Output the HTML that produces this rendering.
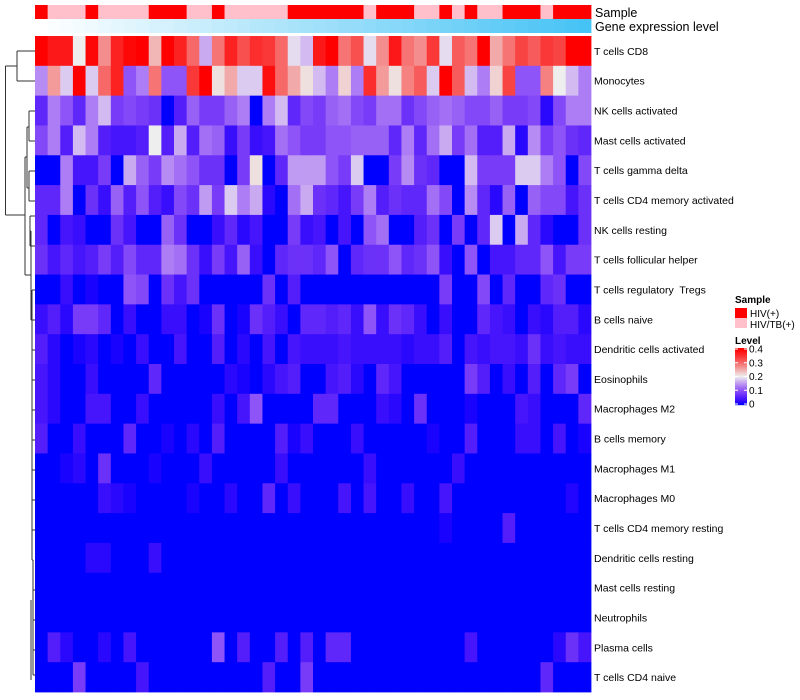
<!DOCTYPE html>
<html><head><meta charset="utf-8">
<style>
html,body{margin:0;padding:0;background:#fff;}
svg{display:block;font-family:"Liberation Sans",sans-serif;}
svg text{white-space:pre;}
</style></head>
<body>
<svg id="chart" width="800" height="700"></svg>
<script>
const rowLabels = ["T cells CD8","Monocytes","NK cells activated","Mast cells activated","T cells gamma delta","T cells CD4 memory activated","NK cells resting","T cells follicular helper","T cells regulatory  Tregs","B cells naive","Dendritic cells activated","Eosinophils","Macrophages M2","B cells memory","Macrophages M1","Macrophages M0","T cells CD4 memory resting","Dendritic cells resting","Mast cells resting","Neutrophils","Plasma cells","T cells CD4 naive"];
const sampleGroups = [1,0,0,0,1,0,0,0,0,1,1,1,0,0,1,0,0,0,0,0,1,1, 1,1,1,1,0,1,1,1,0,0,1,0,1,0,0,1,1,1,0,1,1,1];
const geneLevel = [0,0.02,0.05,0.07,0.09,0.12,0.14,0.16,0.19,0.21,0.23,0.26,0.28,0.3,0.33,0.35,0.37,0.4,0.42,0.44,0.47,0.49,0.51,0.53,0.56,0.58,0.6,0.63,0.65,0.67,0.7,0.72,0.74,0.77,0.79,0.81,0.84,0.86,0.88,0.91,0.93,0.95,0.98,1];
const r0 = [0.4,0.37,0.37,0.2,0.39,0.27,0.36,0.39,0.4,0.24,0.4,0.36,0.3,0.16,0.29,0.36,0.32,0.35,0.34,0.3,0.19,0.17, 0.37,0.4,0.29,0.32,0.19,0.27,0.37,0.29,0.27,0.34,0.19,0.31,0.29,0.4,0.25,0.29,0.33,0.31,0.34,0.33,0.4,0.4];
const r1 = [0.14,0.26,0.18,0.4,0.18,0.3,0.36,0.1,0.13,0.29,0.1,0.1,0.34,0.4,0.21,0.25,0.18,0.18,0.38,0.3,0.25,0.21, 0.17,0.13,0.22,0.13,0.35,0.26,0.21,0.28,0.31,0.18,0.4,0.31,0.17,0.13,0.22,0.33,0.1,0.1,0.28,0.2,0.17,0.13];
const r2 = [0.06,0.13,0.1,0.06,0.13,0.17,0.08,0.09,0.08,0.07,0,0.05,0.11,0.08,0.08,0.11,0.13,0,0.13,0.17,0.06,0.09, 0.08,0.11,0.12,0.09,0.08,0.12,0.12,0.07,0.09,0.11,0.12,0.11,0.09,0.09,0.11,0.08,0.08,0.09,0.02,0.09,0.13,0.13];
const r3 = [0.09,0.13,0.05,0.17,0.13,0.05,0.04,0.04,0.05,0.2,0.05,0.16,0.05,0.12,0.11,0.03,0.08,0.03,0.04,0.12,0.1,0.08, 0.08,0.1,0.1,0.11,0.11,0.11,0.06,0.13,0.06,0.12,0.16,0.08,0.12,0.05,0.05,0.16,0.02,0.14,0.08,0.1,0.07,0.06];
const r4 = [0,0,0.13,0.04,0.04,0.08,0,0.16,0.11,0.08,0.14,0.12,0.1,0.07,0.07,0,0.08,0.21,0,0.06,0.15,0.15, 0.15,0.1,0.08,0.18,0,0,0.08,0.14,0.07,0.06,0,0,0.17,0.08,0.08,0.08,0.18,0.18,0.13,0.1,0,0.09];
const r5 = [0.06,0.06,0.13,0,0.07,0.03,0.11,0.05,0.1,0.05,0.03,0.09,0.07,0.15,0.08,0.18,0.13,0.16,0.02,0,0.12,0.16, 0.07,0.06,0.04,0.08,0.13,0.05,0.07,0.06,0.06,0.12,0.09,0,0.14,0.06,0.02,0.11,0,0.11,0.09,0.09,0.04,0.07];
const r6 = [0.06,0,0.04,0.03,0,0,0.07,0.04,0,0,0.11,0.07,0,0,0.03,0.06,0.02,0.04,0,0,0.08,0.03, 0.04,0,0.04,0,0.1,0.12,0,0,0.05,0.07,0,0.08,0,0.06,0.18,0,0.16,0.06,0.02,0,0,0.07];
const r7 = [0.07,0.04,0.06,0.04,0.05,0.08,0.05,0.09,0.06,0.06,0.13,0.12,0.07,0.03,0.08,0.04,0.11,0.03,0,0.06,0.07,0.07, 0.06,0.1,0,0.06,0.07,0.07,0.1,0.06,0.07,0.1,0.03,0,0.1,0,0.04,0.04,0.06,0.06,0.1,0.04,0.08,0.08];
const r8 = [0,0,0.03,0,0.01,0,0,0.1,0.09,0,0.07,0.04,0.07,0,0,0,0,0,0.07,0,0.05,0, 0,0,0,0,0,0,0,0,0,0,0.08,0,0,0.09,0,0.06,0,0,0.06,0.07,0,0];
const r9 = [0.03,0.05,0.02,0.08,0.08,0.06,0,0.03,0,0,0.03,0.03,0,0.01,0.07,0,0.01,0.07,0.05,0.03,0,0.06, 0.06,0.05,0.06,0.03,0.1,0.03,0.07,0.06,0.03,0,0.03,0,0,0.06,0.04,0.03,0,0.03,0.02,0.05,0.05,0.02];
const r10 = [0.05,0.02,0,0.01,0.02,0,0.01,0,0.03,0,0,0.04,0,0,0.05,0,0.02,0,0.04,0,0.04,0.03, 0.03,0.03,0.04,0.03,0.03,0.03,0.03,0.02,0.03,0.03,0.05,0,0.04,0.03,0.04,0.04,0.03,0.07,0.03,0.04,0.03,0.03];
const r11 = [0.04,0.02,0,0,0.03,0,0,0,0,0.06,0,0,0,0,0,0.02,0.01,0,0.02,0.04,0.05,0, 0,0.04,0.05,0.02,0,0.06,0.04,0,0,0,0,0,0.08,0.05,0,0.03,0,0.05,0,0.06,0.08,0];
const r12 = [0.04,0.02,0,0,0.04,0.04,0,0,0.03,0,0,0,0,0,0.03,0,0.04,0.1,0,0,0,0, 0.06,0.06,0,0,0,0.03,0.02,0,0.07,0,0,0,0.01,0,0,0,0.04,0.03,0,0,0,0.06];
const r13 = [0.05,0,0,0.03,0,0,0,0.06,0,0,0.01,0,0.02,0,0.05,0,0,0,0,0.05,0.01,0.03, 0,0,0,0.03,0,0,0,0,0,0.01,0,0,0.05,0,0,0,0.03,0.03,0,0.04,0,0.01];
const r14 = [0,0,0.01,0.02,0,0.07,0,0,0,0.01,0,0,0,0.03,0,0,0,0,0,0.03,0,0, 0,0,0,0,0.03,0,0,0,0,0,0,0.03,0,0,0,0,0,0,0,0,0,0];
const r15 = [0,0,0,0,0,0.03,0.02,0.01,0,0,0,0,0.01,0,0,0.02,0,0,0.06,0,0.03,0, 0,0,0.04,0,0.04,0,0,0.03,0,0,0.04,0,0,0,0,0,0,0,0,0,0.015,0];
const r16 = [0,0,0,0,0,0,0,0,0,0,0,0,0,0,0,0,0,0,0,0,0,0, 0,0,0,0,0,0,0,0,0,0,0.01,0,0,0,0,0.05,0,0,0,0,0,0];
const r17 = [0,0,0,0,0.02,0.02,0,0,0,0.03,0,0,0,0,0,0,0,0,0,0,0,0, 0,0,0,0,0,0,0,0,0,0,0,0,0,0,0,0,0,0,0,0,0,0];
const r18 = [0,0,0,0,0,0,0,0,0,0,0,0,0,0,0,0,0,0,0,0,0,0, 0,0,0,0,0,0,0,0,0,0,0,0,0,0,0,0,0,0,0,0,0,0];
const r19 = [0,0,0,0,0,0,0,0,0,0,0,0,0,0,0,0,0,0,0,0,0,0, 0,0,0,0,0,0,0,0,0,0,0,0,0,0,0,0,0,0,0,0,0,0];
const r20 = [0,0.05,0.02,0,0,0.02,0,0.04,0,0,0,0,0,0,0.1,0,0.05,0,0,0.05,0,0.05, 0,0.06,0.06,0,0,0,0,0,0,0,0,0,0.04,0,0,0,0,0,0,0.02,0.07,0.04];
const r21 = [0,0,0,0.08,0,0,0,0,0.04,0,0,0,0,0,0,0,0,0,0.05,0,0,0.08, 0,0,0,0,0,0,0,0,0,0,0,0,0,0,0,0,0,0,0.06,0,0,0];
const values = [r0,r1,r2,r3,r4,r5,r6,r7,r8,r9,r10,r11,r12,r13,r14,r15,r16,r17,r18,r19,r20,r21];
const legendTicks = [0.4,0.3,0.2,0.1,0];

const NS = "http://www.w3.org/2000/svg";
const svg = document.getElementById("chart");
const X0 = 35, X1 = 591, Y0 = 36, Y1 = 692;
const nCol = r0.length, nRow = values.length;
const cw = (X1 - X0) / nCol, rh = (Y1 - Y0) / nRow;
function xPos(j){ return X0 + j * cw; }
function yPos(i){ return Y0 + i * rh; }
function mk(tag, attrs, parent){
  const e = document.createElementNS(NS, tag);
  for (const k in attrs) e.setAttribute(k, attrs[k]);
  (parent || svg).appendChild(e);
  return e;
}
function color(v){
  v = Math.max(0, Math.min(0.4, v));
  let r,g,b;
  if (v <= 0.2){
    const s = v / 0.2;
    r = 238 * Math.pow(s, 0.75); g = 238 * Math.pow(s, 1.5); b = 255 - 17 * s;
  } else {
    const s = (v - 0.2) / 0.2;
    r = 238 + 17 * s; g = 238 * Math.pow(1 - s, 1.2); b = g;
  }
  return `rgb(${Math.round(r)},${Math.round(g)},${Math.round(b)})`;
}

const gS = mk("g", {});


sampleGroups.forEach((s, j) => {
  const r = mk("rect", {x: xPos(j), y: 5, width: cw + 0.4, height: 14, fill: s ? "#ff0000" : "#ffc0cb"}, gS);
  
  
});
const gG = mk("g", {});


geneLevel.forEach((v, j) => {
  const c = `rgb(${Math.round(255 - 185 * v)},${Math.round(255 - 60 * v)},${Math.round(255 - 10 * v)})`;
  const r = mk("rect", {x: xPos(j), y: 19, width: cw + 0.4, height: 14, fill: c}, gG);
  
  
});
let t = mk("text", {x: 595, y: 17, "font-size": 12.5, fill: "#000"}); t.textContent = "Sample";


t = mk("text", {x: 595, y: 31, "font-size": 12.5, fill: "#000"}); t.textContent = "Gene expression level";



const gH = mk("g", {});


values.forEach((row, i) => {
  row.forEach((v, j) => {
    const r = mk("rect", {x: xPos(j), y: yPos(i), width: cw + 0.4, height: rh + 0.4, fill: color(v)}, gH);
    
    
  });
  const lb = mk("text", {x: 594, y: yPos(i) + rh / 2 + 4, "font-size": 10.5, fill: "#000"});
  lb.textContent = rowLabels[i];
  
  
});

const gD = mk("g", {stroke: "#333", "stroke-width": 1, fill: "none"});


const segs = [
  [5.5,66,5.5,215],[5.5,66,17,66],[17,51,17,81],[17,51,35,51],[17,81,35,81],
  [5.5,215,25,215],[25,157,25,275],[25,157,27,157],[27,127,27,188],[27,127,29,127],[29,111,29,141],[29,111,35,111],[29,141,35,141],
  [27,188,29,188],[29,171,29,201],[29,171,35,171],[29,201,35,201],
  [25,275,31,275],[31,231,31,320],[31,231,30,231],[30,216,30,246],[30,216,35,216],[30,246,35,246],
  [31,320,32,320],[32,290,32,560],[32,290,35,290],[32,320,35,320],[32,350,35,350],[32,380,35,380],[32,410,35,410],
  [32,440,35,440],[32,470,35,470],[32,500,35,500],[32,530,35,530],[32,560,33,560],[33,560,33,675],
  [33,590,35,590],[33,620,35,620],[33,650,35,650],[33,675,35,675],[31,600,31,680]
];
segs.forEach(s => { mk("line", {x1: s[0], y1: s[1], x2: s[2], y2: s[3]}, gD); });

const gL = mk("g", {});


t = mk("text", {x: 735, y: 303, "font-size": 10, "font-weight": "bold"}, gL); t.textContent = "Sample";


let e = mk("rect", {x: 735, y: 308, width: 12, height: 10, fill: "#ff0000"}, gL);


t = mk("text", {x: 750, y: 317, "font-size": 10}, gL); t.textContent = "HIV(+)";


e = mk("rect", {x: 735, y: 318, width: 12, height: 10, fill: "#ffc0cb"}, gL);


t = mk("text", {x: 750, y: 328, "font-size": 10}, gL); t.textContent = "HIV/TB(+)";


t = mk("text", {x: 735, y: 344, "font-size": 10, "font-weight": "bold"}, gL); t.textContent = "Level";


const barTop = 348, barBot = 405;
for (let k = 0; k < 57; k++) {
  const v = 0.4 - 0.4 * k / 56;
  mk("rect", {x: 735, y: barTop + k, width: 12, height: 1.2, fill: color(v)}, gL);
}
legendTicks.forEach(v => {
  const y = barBot - (v / 0.4) * (barBot - barTop - 2) - 1;
  mk("line", {x1: 735, y1: y, x2: 738, y2: y, stroke: "#fff", "stroke-width": 1}, gL);
  mk("line", {x1: 744, y1: y, x2: 747, y2: y, stroke: "#fff", "stroke-width": 1}, gL);
  const tl = mk("text", {x: 749, y: y + 3.5, "font-size": 10}, gL);
  tl.textContent = String(v);
  
  
});
</script>
</body></html>
